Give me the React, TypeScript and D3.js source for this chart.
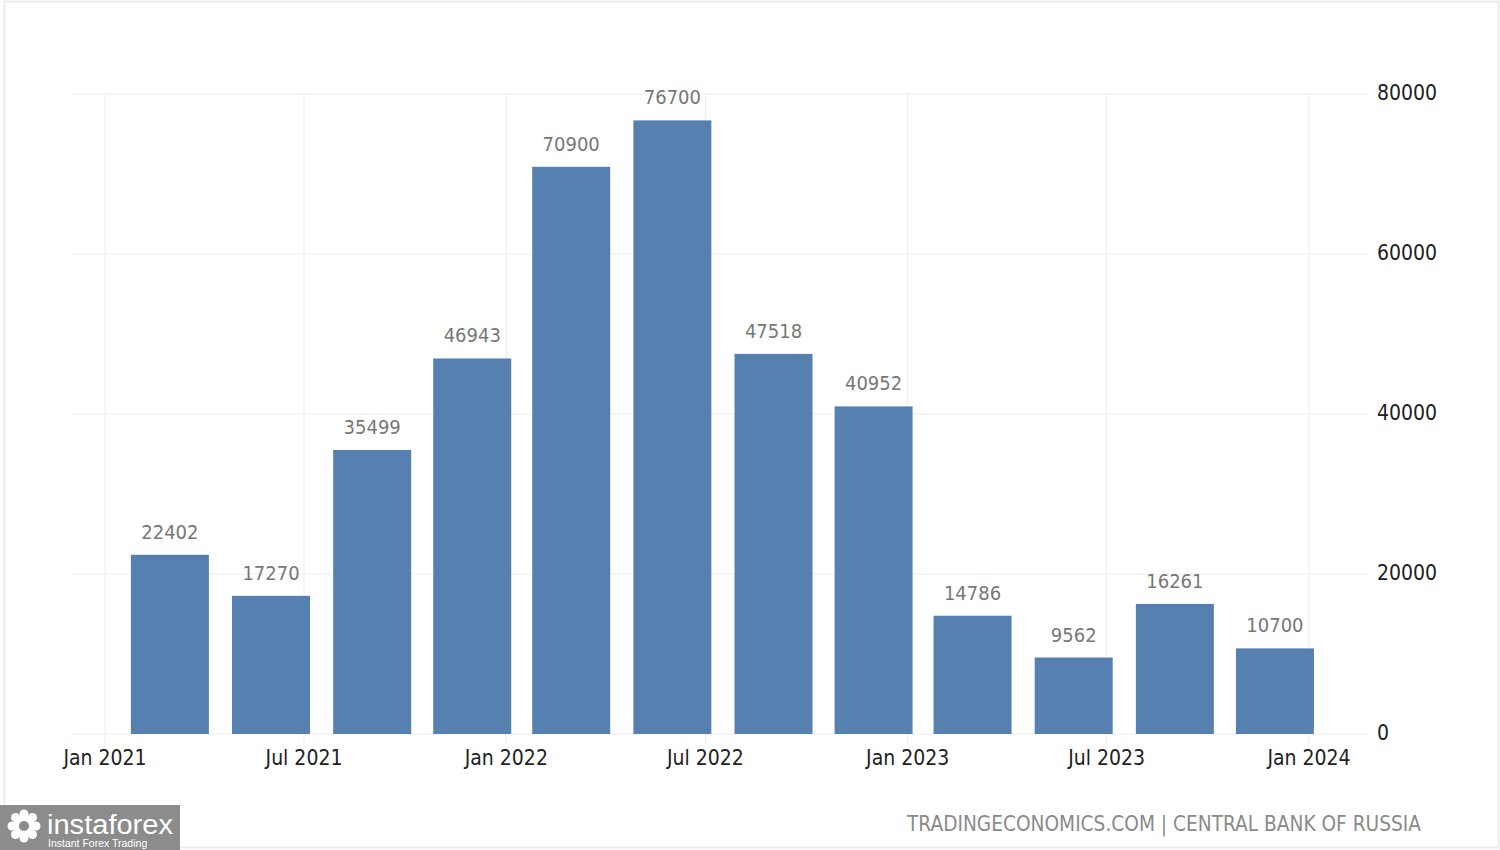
import React from "react";
import * as d3 from "d3";

const periods = ["2021-03", "2021-06", "2021-09", "2021-12", "2022-03", "2022-06", "2022-09", "2022-12", "2023-03", "2023-06", "2023-09", "2023-12"];
const values = [22402, 17270, 35499, 46943, 70900, 76700, 47518, 40952, 14786, 9562, 16261, 10700];
const yTicks = [0, 20000, 40000, 60000, 80000];
const xTickDates = ["2021-01", "2021-07", "2022-01", "2022-07", "2023-01", "2023-07", "2024-01"];
const sourceText = "TRADINGECONOMICS.COM | CENTRAL BANK OF RUSSIA";

const W = 1500;
const H = 850;
const parseMonth = d3.timeParse("%Y-%m");
const fmtTick = d3.timeFormat("%b %Y");

export default function App() {
  const x = d3.scaleTime()
    .domain([parseMonth("2021-01")!, parseMonth("2024-01")!])
    .range([105, 1309]);
  const y = d3.scaleLinear().domain([0, 80000]).range([734, 94]);
  const barW = 78;
  const cond = "'DejaVu Sans Condensed', 'DejaVu Sans', sans-serif";

  return (
    <svg width={W} height={H} style={{ position: "absolute", left: 0, top: 0, background: "#fff" }}>
      <rect x={4.5} y={1.5} width={W - 6} height={H - 4} fill="none" stroke="#ececec" strokeWidth={2} />
      {/* horizontal grid */}
      {yTicks.map((t) => (
        <line key={"h" + t} x1={72} x2={1368} y1={y(t)} y2={y(t)} stroke="#ececec" strokeWidth={1} />
      ))}
      {/* vertical grid */}
      {xTickDates.map((s) => {
        const d = parseMonth(s)!;
        return <line key={"v" + s} x1={x(d)} x2={x(d)} y1={94} y2={744} stroke="#ececec" strokeWidth={1} />;
      })}
      {/* bars */}
      {periods.map((p, i) => {
        const cx = x(parseMonth(p)!);
        return (
          <rect key={p} x={cx - barW / 2} y={y(values[i])} width={barW} height={y(0) - y(values[i])} fill="#5580b0" />
        );
      })}
      {/* value labels */}
      {periods.map((p, i) => {
        const cx = x(parseMonth(p)!);
        return (
          <text key={"l" + p} x={cx} y={y(values[i]) - 16} textAnchor="middle" fontFamily={cond} fontSize={20} fill="#777">
            {values[i]}
          </text>
        );
      })}
      {/* x tick labels */}
      {xTickDates.map((s) => {
        const d = parseMonth(s)!;
        return (
          <text key={"xt" + s} x={x(d)} y={765} textAnchor="middle" fontFamily={cond} fontSize={21} fill="#222">
            {fmtTick(d)}
          </text>
        );
      })}
      {/* y tick labels */}
      {yTicks.map((t) => (
        <text key={"yt" + t} x={1377} y={y(t) + 6} fontFamily={cond} fontSize={21} fill="#222">
          {t}
        </text>
      ))}
      {/* source */}
      <text x={1421} y={831} textAnchor="end" fontFamily={cond} fontSize={20.5} fill="#8a8a8a" textLength={514} lengthAdjust="spacingAndGlyphs">
        {sourceText}
      </text>
      {/* logo */}
      <g>
        <rect x={0} y={805} width={180} height={45} fill="#8c8c8c" />
        <g transform="translate(24,826)" fill="#fff">
          {d3.range(8).map((k) => {
            const a = (k * Math.PI) / 4;
            return <circle key={k} cx={Math.cos(a) * 12} cy={Math.sin(a) * 12} r={4.5} />;
          })}
          <circle r={11} />
          <circle r={5} fill="#8c8c8c" />
        </g>
        <text x={47} y={834} fontFamily="'Liberation Sans', Arial, sans-serif" fontSize={27} fill="#fff" textLength={126} lengthAdjust="spacingAndGlyphs">instaforex</text>
        <text x={48} y={847} fontFamily="'Liberation Sans', Arial, sans-serif" fontSize={10.5} fill="#fff">Instant Forex Trading</text>
      </g>
    </svg>
  );
}
